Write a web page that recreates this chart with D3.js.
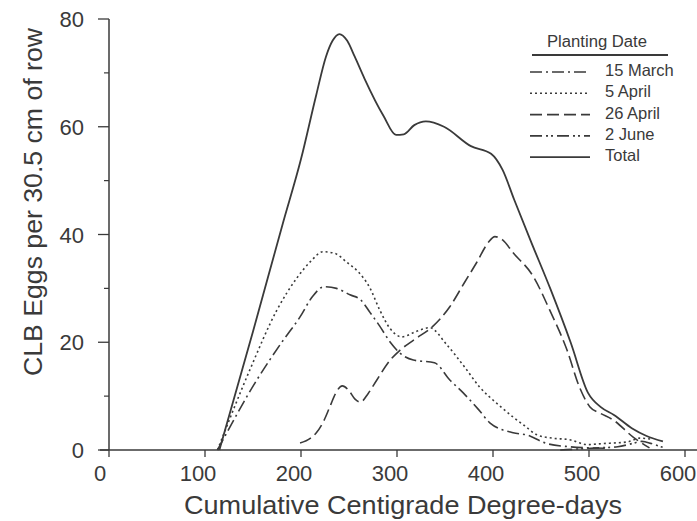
<!DOCTYPE html>
<html><head><meta charset="utf-8">
<script src="https://cdn.jsdelivr.net/npm/d3@7"></script>
<style>body{margin:0;background:#fff}svg{display:block}text{font-family:"Liberation Sans",Arial,sans-serif;fill:#3a3a3a}</style>
</head><body>
<svg id="c" width="697" height="521"></svg>
<script>
const xTicks = [0,100,200,300,400,500,600];
const yTicks = [0,20,40,60,80];
const yMinor = [10,30,50,70];
const seriesNames = ["15 March","5 April","26 April","2 June","Total"];
const march15 = [[113,0],[154,13],[180,20],[199,24.7],[212,28.5],[224,30.3],[237,30],[251,28.8],[262,27.9],[272,25.5],[282,23],[293,20],[303,18],[317,16.7],[339,16.2],[355,13],[369,10.6],[385,7.5],[397,5],[421,3.2],[435,2.8],[456,1.2],[480,0.6],[500,0.4],[520,0.3]];
const april5 = [[113,0],[147,15],[175,26],[196,32],[210,35],[223,36.8],[235,36.5],[248,34.8],[260,33],[272,30],[282,26],[293,22.5],[305,21],[320,22],[334,22.7],[352,19.5],[370,15.5],[386,11.7],[405,8.5],[421,6.1],[433,4.5],[446,2.8],[462,2.2],[480,1.9],[498,1],[515,1.2],[540,1.5],[553,2.2],[565,2]];
const april26 = [[199,1.3],[210,2.2],[216,3.2],[224,5.5],[230,8],[236,10.5],[243,11.9],[250,11],[256,9.5],[262,8.9],[270,10.5],[279,13],[293,16.7],[303,18.5],[318,20.5],[337,22.9],[355,26.6],[370,31],[383,34.8],[395,38.5],[402,39.6],[410,39],[421,36.6],[442,32.2],[459,26],[477,18.6],[490,11.7],[501,8],[512,6.8],[525,5.6],[546,2.4],[563,0.4]];
const june2 = [[470,0],[490,0.2],[510,0.4],[530,0.6],[545,1.2],[555,1.6],[565,1.2],[575,0.6],[580,0.3]];
const total = [[115,0],[150,22],[181,42],[200,54],[216,66],[226,73],[233,76],[240,77.2],[248,76],[256,73],[266,69],[286,62],[299,58.5],[307,58.6],[318,60.3],[330,61],[349,60],[377,56.4],[398,55],[410,52],[422,46.5],[440,38.5],[460,29.8],[481,19.9],[499,10.6],[512,8],[526,6.5],[545,4],[560,2.6],[577,1.6]];

const dashes = ["12,4,2,4","2,3","12,5","12,4,2,3,2,4",null];
const widths = [1.6,1.6,1.6,1.6,1.8];
const data = [march15, april5, april26, june2, total];

const svg = d3.select("#c");
const x = d3.scaleLinear().domain([0,600]).range([109,685]);
const y = d3.scaleLinear().domain([0,80]).range([450,19]);
const col = "#3a3a3a";

// axes
svg.append("line").attr("x1",100).attr("x2",697).attr("y1",y(0)).attr("y2",y(0)).attr("stroke",col).attr("stroke-width",1.5);
svg.append("line").attr("x1",x(0)).attr("x2",x(0)).attr("y1",y(0)).attr("y2",y(80)).attr("stroke",col).attr("stroke-width",1.5);
svg.selectAll(".xt").data(xTicks).join("line").attr("x1",d=>x(d)).attr("x2",d=>x(d)).attr("y1",y(0)).attr("y2",y(0)+7).attr("stroke",col).attr("stroke-width",1.3);
svg.selectAll(".xl").data(xTicks).join("text").attr("x",d=>x(d)-(d===0?9:7)).attr("y",481).attr("text-anchor","middle").attr("font-size",22).text(d=>d);
svg.selectAll(".yt").data(yTicks).join("line").attr("x1",x(0)-11).attr("x2",x(0)).attr("y1",d=>y(d)).attr("y2",d=>y(d)).attr("stroke",col).attr("stroke-width",1.3);
svg.selectAll(".ym").data(yMinor).join("line").attr("x1",x(0)-5).attr("x2",x(0)).attr("y1",d=>y(d)).attr("y2",d=>y(d)).attr("stroke",col).attr("stroke-width",1.2);
svg.selectAll(".yl").data(yTicks).join("text").attr("x",84).attr("y",d=>y(d)+8).attr("text-anchor","end").attr("font-size",22).text(d=>d);

svg.append("text").attr("x",403).attr("y",514).attr("text-anchor","middle").attr("font-size",26).attr("textLength",438).attr("lengthAdjust","spacingAndGlyphs").text("Cumulative Centigrade Degree-days");
svg.append("text").attr("transform","translate(42,202) rotate(-90)").attr("text-anchor","middle").attr("font-size",26).attr("textLength",348).attr("lengthAdjust","spacingAndGlyphs").text("CLB  Eggs per 30.5 cm of row");

const line = d3.line().x(d=>x(d[0])).y(d=>y(d[1])).curve(d3.curveMonotoneX);
data.forEach((s,i)=>{
  svg.append("path").attr("d",line(s)).attr("fill","none").attr("stroke",col).attr("stroke-width",widths[i]).attr("stroke-dasharray",dashes[i]);
});

// legend
const lg = svg.append("g");
lg.append("text").attr("x",597).attr("y",47).attr("text-anchor","middle").attr("font-size",16).attr("textLength",100).attr("lengthAdjust","spacingAndGlyphs").text("Planting Date");
lg.append("line").attr("x1",532).attr("x2",668).attr("y1",55).attr("y2",55).attr("stroke",col).attr("stroke-width",2);
seriesNames.forEach((n,i)=>{
  const yy = 76 + i*21.3;
  lg.append("line").attr("x1",530).attr("x2",590).attr("y1",yy-4).attr("y2",yy-4).attr("stroke",col).attr("stroke-width",widths[i]).attr("stroke-dasharray",dashes[i]);
  lg.append("text").attr("x",605).attr("y",yy).attr("font-size",16.5).text(n);
});
</script>
</body></html>
